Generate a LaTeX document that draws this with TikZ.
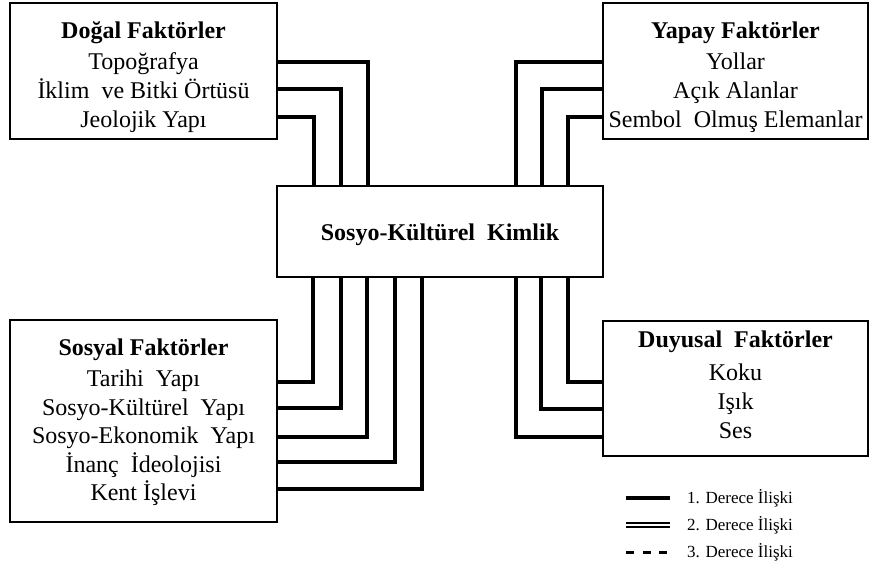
\documentclass[tikz,border=0pt]{standalone}
\usepackage{fontspec}
\setmainfont{Liberation Serif}
\tikzset{
  factorbox/.style={draw, line width=2pt, align=center, inner sep=0pt,
    font=\fontsize{24}{29}\selectfont},
  rel1/.style={line width=3.2pt},
  rel2/.style={double, double distance=2.2pt, line width=1.5pt},
  rel3/.style={line width=3pt, dash pattern=on 8pt off 8.5pt},
  legendtext/.style={anchor=west, inner sep=0pt, font=\fontsize{17}{19}\selectfont},
}
\begin{document}
\begin{tikzpicture}[x=1pt,y=-1pt]
  \useasboundingbox (0,0) rectangle (870,570);

  \node[factorbox, minimum width=267pt, minimum height=136pt] (dogal) at (143.5,71)
    {\rule{0pt}{30pt}\textbf{Doğal Faktörler}\\[2pt]Topoğrafya\\İklim\ \ ve Bitki Örtüsü\\Jeolojik Yapı};
  \node[factorbox, minimum width=265pt, minimum height=136pt] (yapay) at (735.5,71)
    {\rule{0pt}{30pt}\textbf{Yapay Faktörler}\\[2pt]Yollar\\Açık Alanlar\\Sembol\ \ Olmuş Elemanlar};
  \node[factorbox, minimum width=326pt, minimum height=91pt] (kimlik) at (440,231)
    {\rule{0pt}{25pt}\textbf{Sosyo-Kültürel\ \ Kimlik}};
  \node[factorbox, minimum width=267pt, minimum height=202pt,
    font=\fontsize{24}{28.5}\selectfont] (sosyal) at (143.5,421)
    {\rule{0pt}{20pt}\textbf{Sosyal Faktörler}\\[2.5pt]Tarihi\ \ Yapı\\Sosyo-Kültürel\ \ Yapı\\Sosyo-Ekonomik\ \ Yapı\\İnanç\ \ İdeolojisi\\Kent İşlevi};
  \node[factorbox, minimum width=265pt, minimum height=135pt] (duyusal) at (735.5,388.5)
    {\textbf{Duyusal\ \ Faktörler}\\[4pt]Koku\\Işık\\Ses\rule[-8pt]{0pt}{8pt}};

  \foreach \y/\x in {62/368, 89/341, 117/314}
    \draw[rel1] (dogal.east |- 0,\y) -| (kimlik.north -| \x,0);
  \foreach \y/\x in {62/516, 89/542, 117/568}
    \draw[rel1] (yapay.west |- 0,\y) -| (kimlik.north -| \x,0);
  \foreach \y/\x in {382/313, 408/341, 437/367, 462/395, 489/422}
    \draw[rel1] (sosyal.east |- 0,\y) -| (kimlik.south -| \x,0);
  \foreach \y/\x in {382/568, 409/541, 437/516}
    \draw[rel1] (duyusal.west |- 0,\y) -| (kimlik.south -| \x,0);

  \foreach \y/\s/\n in {498/rel1/1, 525/rel2/2, 552/rel3/3} {
    \draw[\s] (626,\y) -- (670,\y);
    \node[legendtext] (legend\n) at (687,\y) {\n. Derece İlişki};
  }
\end{tikzpicture}
\end{document}
